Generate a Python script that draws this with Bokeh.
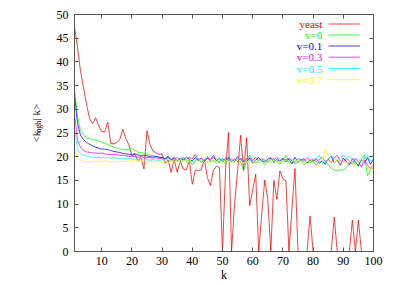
import math
from bokeh.plotting import figure
from bokeh.models import Range1d, LinearAxis, Label, FixedTicker, CustomJSTickFormatter
from bokeh.layouts import row
from bokeh.embed import file_html
from bokeh.resources import INLINE

k = list(range(1, 101))

yeast = [
    47.5, 43.0, 38.0, 34.5, 31.0, 28.0, 27.0, 28.2, 26.5, 25.3,
    25.2, 27.3, 22.8, 22.7, 23.0, 23.6, 25.8, 23.8, 22.5, 20.2,
    20.5, 19.2, 19.8, 17.4, 25.5, 22.5, 21.2, 20.8, 20.5, 20.6,
    18.6, 19.3, 16.7, 19.4, 16.7, 19.1, 17.4, 17.2, 19.2, 14.2,
    17.2, 17.1, 17.3, 19.4, 15.6, 13.9, 17.2, 18.0, 17.7, 0.0,
    17.0, 25.1, 0.0, 10.0, 17.0, 24.5, 17.0, 24.0, 9.6, 13.0,
    16.3, 0.0, 8.0, 15.1, 11.0, 0.0, 15.0, 11.0, 17.0, 15.3,
    14.9, 0.0, 9.0, 17.5, 0.0, 0.0, 0.0, 0.0, 7.5, 0.0,
    0.0, 0.0, 0.0, 0.0, 0.0, 0.0, 7.2, 0.0, 0.0, 0.0,
    0.0, 0.0, 6.6, 0.0, 6.6, 0.0, 0.0, 0.0, 0.0, 0.0,
]
v0 = [
    34.0, 28.5, 25.5, 24.6, 24.0, 23.8, 23.6, 23.5, 23.3, 23.0,
    22.8, 22.6, 22.3, 22.0, 21.8, 21.6, 21.5, 21.4, 21.5, 21.7,
    21.3, 20.9, 20.9, 20.7, 20.6, 20.2, 20.3, 20.0, 19.8, 19.9,
    19.5, 19.8, 19.1, 19.6, 19.0, 19.5, 19.9, 18.8, 19.3, 18.3,
    19.0, 19.6, 18.7, 19.4, 20.1, 18.9, 19.2, 18.6, 19.8, 19.1,
    18.5, 19.6, 19.0, 18.8, 19.9, 18.9, 17.0, 19.5, 20.3, 19.2,
    18.6, 19.4, 19.0, 18.2, 19.3, 18.8, 19.6, 18.9, 18.4, 19.5,
    20.3, 18.6, 19.2, 18.5, 18.9, 19.4, 18.3, 19.0, 18.7, 19.3,
    18.2, 19.1, 18.6, 18.9, 18.4, 17.5, 17.2, 17.0, 17.3, 17.1,
    17.8, 18.4, 19.0, 18.5, 18.0, 19.4, 20.4, 16.0, 17.2, 17.6,
]
v01 = [
    33.0, 27.0, 24.5, 23.6, 23.0, 22.6, 22.3, 22.0, 21.8, 21.6,
    21.6, 21.5, 21.3, 21.1, 21.0, 20.9, 20.7, 20.6, 20.5, 20.5,
    20.6, 20.4, 20.2, 20.3, 20.2, 20.0, 19.9, 20.1, 19.9, 19.8,
    19.6, 20.1, 19.4, 19.8, 19.2, 19.7, 19.3, 19.9, 19.5, 19.1,
    19.8, 19.2, 19.6, 19.0, 19.7, 19.3, 19.9, 19.2, 18.8, 19.6,
    19.1, 19.8, 18.9, 19.5, 19.0, 19.6, 19.2, 19.0, 19.7, 18.7,
    19.3, 19.8, 19.1, 18.9, 19.5, 19.8, 18.8, 19.4, 19.0, 19.7,
    18.9, 19.5, 18.5, 19.9, 18.8, 19.2, 19.6, 18.7, 19.3, 19.0,
    19.6, 18.6, 19.1, 18.4, 19.5, 20.1, 18.7, 19.3, 18.2, 19.7,
    19.0, 18.3, 19.6, 18.9, 18.1, 19.4, 18.6, 19.8, 18.4, 19.5,
]
v03 = [
    29.0, 23.5, 22.0, 21.3, 21.0, 20.9, 20.8, 20.8, 20.7, 20.8,
    20.6, 20.5, 20.5, 20.5, 20.4, 20.3, 20.3, 20.2, 20.0, 20.1,
    20.0, 19.9, 20.0, 19.8, 19.8, 19.9, 19.7, 19.8, 19.6, 19.7,
    19.5, 19.9, 19.3, 19.6, 19.8, 19.2, 19.6, 19.4, 19.9, 19.5,
    20.5, 19.3, 19.7, 19.1, 19.8, 19.4, 20.3, 19.2, 19.6, 18.9,
    19.7, 19.3, 19.5, 19.0, 20.1, 19.4, 18.9, 19.6, 19.8, 19.2,
    19.9, 19.1, 19.5, 19.3, 18.8, 19.7, 19.4, 19.9, 19.0, 19.5,
    19.3, 19.7, 19.1, 18.8, 19.6, 19.4, 19.0, 19.8, 19.2, 19.5,
    18.9, 19.4, 19.9, 19.0, 19.5, 18.7, 19.8, 20.3, 19.1, 18.8,
    19.6, 19.2, 18.4, 19.7, 18.9, 17.8, 19.3, 18.2, 17.5, 18.3,
]
v05 = [
    26.0, 21.5, 20.6, 20.3, 20.1, 20.0, 19.9, 19.9, 19.8, 19.9,
    19.8, 19.8, 19.7, 19.8, 19.6, 19.7, 19.6, 19.5, 19.6, 19.5,
    19.5, 19.4, 19.5, 19.3, 19.4, 19.2, 19.4, 19.3, 19.2, 19.4,
    19.2, 19.6, 18.9, 19.5, 19.1, 19.7, 19.0, 19.4, 19.2, 18.8,
    19.3, 19.6, 19.0, 19.4, 18.7, 19.5, 19.1, 19.3, 18.9, 19.6,
    19.0, 19.4, 19.2, 18.8, 19.7, 19.1, 19.4, 18.9, 19.3, 19.5,
    19.1, 18.7, 19.5, 19.2, 18.9, 19.6, 19.0, 19.3, 19.7, 18.9,
    19.3, 19.0, 19.5, 18.8, 19.6, 19.2, 19.4, 19.0, 18.9, 19.5,
    19.2, 20.3, 19.0, 18.7, 19.6, 20.2, 19.8, 19.1, 19.6, 20.4,
    19.8, 20.2, 19.0, 18.6, 19.4, 18.8, 19.7, 20.2, 19.1, 19.5,
]
v07 = [
    22.0, 19.6, 19.2, 19.0, 19.0, 18.9, 19.0, 19.1, 18.9, 19.0,
    19.2, 19.0, 18.9, 19.1, 19.0, 19.1, 19.0, 18.9, 19.1, 19.2,
    19.0, 18.9, 19.1, 19.0, 18.8, 19.0, 18.9, 19.1, 18.9, 18.8,
    19.0, 18.7, 19.2, 18.9, 19.4, 18.6, 19.1, 19.3, 18.8, 19.9,
    19.2, 18.9, 19.5, 18.8, 19.1, 18.6, 19.4, 18.9, 19.2, 18.7,
    19.3, 18.9, 19.1, 18.8, 19.4, 19.0, 18.7, 19.2, 18.3, 19.0,
    18.8, 19.3, 19.0, 18.5, 19.2, 18.9, 19.4, 18.7, 19.1, 18.9,
    19.2, 18.8, 19.0, 19.3, 18.9, 19.1, 18.6, 19.0, 19.4, 18.8,
    19.1, 18.9, 19.3, 21.6, 18.9, 19.2, 18.6, 19.5, 18.8, 19.0,
    18.4, 19.2, 18.7, 18.1, 18.9, 19.4, 18.5, 17.9, 16.8, 18.2,
]

series_names = ["yeast", "v=0", "v=0.1", "v=0.3", "v=0.5", "v=0.7"]
series_values = [yeast, v0, v01, v03, v05, v07]
series_colors = ["#ff0000", "#00ff00", "#0000ff", "#ff00ff", "#00ffff", "#ffff00"]

x_ticks = [10, 20, 30, 40, 50, 60, 70, 80, 90, 100]
y_ticks = [0, 5, 10, 15, 20, 25, 30, 35, 40, 45, 50]

FONT = "Liberation Serif"
AX = "#555555"
LABEL_W = 44  # width of the strip that holds the rotated y-axis title

# ---------------- main plot ----------------
p = figure(width=407 - LABEL_W, height=285, output_backend="svg", toolbar_location=None,
           x_range=Range1d(1, 100), y_range=Range1d(0, 50),
           min_border_left=74 - LABEL_W, min_border_right=34, min_border_top=14, min_border_bottom=34)
p.grid.visible = False
p.outline_line_color = AX
p.background_fill_color = "white"
p.border_fill_color = "white"

def style_axis(ax, labels=True):
    ax.major_tick_in = 4
    ax.major_tick_out = 0
    ax.minor_tick_line_color = None
    ax.axis_line_color = AX
    ax.major_tick_line_color = AX
    ax.major_label_text_font = FONT
    ax.major_label_text_color = "black"
    if labels:
        ax.major_label_text_font_size = "12px"
        ax.major_label_standoff = 5
    else:
        ax.formatter = CustomJSTickFormatter(code="return ''")
        ax.major_label_text_font_size = "1px"
        ax.major_label_standoff = 0

p.xaxis.ticker = FixedTicker(ticks=x_ticks)
p.yaxis.ticker = FixedTicker(ticks=y_ticks)
style_axis(p.xaxis[0])
style_axis(p.yaxis[0])
p.yaxis[0].major_label_standoff = 6
p.xaxis[0].axis_label = "k"
p.xaxis[0].axis_label_text_font = FONT
p.xaxis[0].axis_label_text_font_size = "12px"
p.xaxis[0].axis_label_text_font_style = "normal"
p.xaxis[0].axis_label_text_color = "black"
p.xaxis[0].axis_label_standoff = 0

top = LinearAxis(ticker=FixedTicker(ticks=x_ticks))
style_axis(top, labels=False)
p.add_layout(top, "above")
right = LinearAxis(ticker=FixedTicker(ticks=y_ticks))
style_axis(right, labels=False)
p.add_layout(right, "right")

for vals, col in zip(series_values, series_colors):
    p.line(k, vals, line_color=col, line_width=1, line_alpha=0.75)

# window pixel -> data position (for the key)
def w2d(wx, wy):
    return 1 + (wx - 74) / (299 / 99), (251 - wy) / (237 / 50)

text_y = [23.5, 34.5, 45.5, 56.7, 68.0, 79.2]
for name, col, ty in zip(series_names, series_colors, text_y):
    tx, tyd = w2d(321.7, ty)
    p.add_layout(Label(x=tx, y=tyd, text=name, text_align="right", text_baseline="middle",
                       text_font=FONT, text_font_size="11px", text_color=col))
    x0, y0 = w2d(328, ty)
    x1, _ = w2d(359.3, ty)
    p.line([x0, x1], [y0, y0], line_color=col, line_width=1, line_alpha=0.75)

# ---------------- y-axis title strip ----------------
lab = figure(width=LABEL_W, height=285, output_backend="svg", toolbar_location=None,
             x_range=Range1d(0, LABEL_W), y_range=Range1d(0, 285),
             x_axis_type=None, y_axis_type=None,
             min_border_left=0, min_border_right=0, min_border_top=0, min_border_bottom=0)
lab.grid.visible = False
lab.outline_line_color = None
lab.background_fill_color = "white"
lab.border_fill_color = "white"
for txt, wx, wy, size in [("<k", 35, 154, "11px"), ("ngh", 38, 142.3, "8px"), ("| k>", 35, 127.5, "11px")]:
    lab.add_layout(Label(x=wx, y=285 - wy, text=txt, angle=math.pi / 2, text_align="left",
                         text_baseline="alphabetic", text_font=FONT, text_font_size=size,
                         text_color="black"))

layout = row(lab, p, spacing=0)
open("out.html", "w").write(file_html(layout, INLINE))
